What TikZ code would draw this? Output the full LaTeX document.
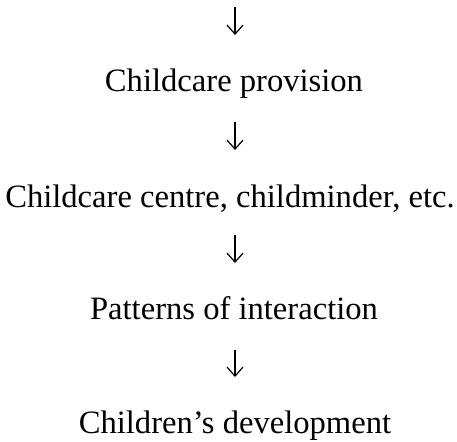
\documentclass[tikz,border=0pt]{standalone}
\usepackage{fontspec}
\setmainfont{Liberation Serif}
\usetikzlibrary{arrows.meta}
\begin{document}
\begin{tikzpicture}[x=1pt,y=1pt,
  lbl/.style={anchor=base,inner sep=0pt,font=\fontsize{32.6}{36}\selectfont},
  arr/.style={line width=1.2pt,-{Straight Barb[length=9pt,width=16pt,line width=1.2pt]}}]
\useasboundingbox (0,0) rectangle (457,441);
\node[lbl] (n1) at (234,{441-92}) {Childcare provision};
\node[lbl] (n2) at (230,{441-208}) {Childcare centre, childminder, etc.};
\node[lbl] (n3) at (234,{441-320}) {Patterns of interaction};
\node[lbl] (n4) at (235,{441-433}) {Children’s development};
\coordinate (top) at (235,{441-7});
\draw[arr] (top) -- ([yshift=57pt]n1.base -| top);
\draw[arr] ([yshift=-30pt]n1.base -| top) -- ([yshift=58pt]n2.base -| top);
\draw[arr] ([yshift=-27pt]n2.base -| top) -- ([yshift=57pt]n3.base -| top);
\draw[arr] ([yshift=-30pt]n3.base -| top) -- ([yshift=56pt]n4.base -| top);
\end{tikzpicture}
\end{document}
